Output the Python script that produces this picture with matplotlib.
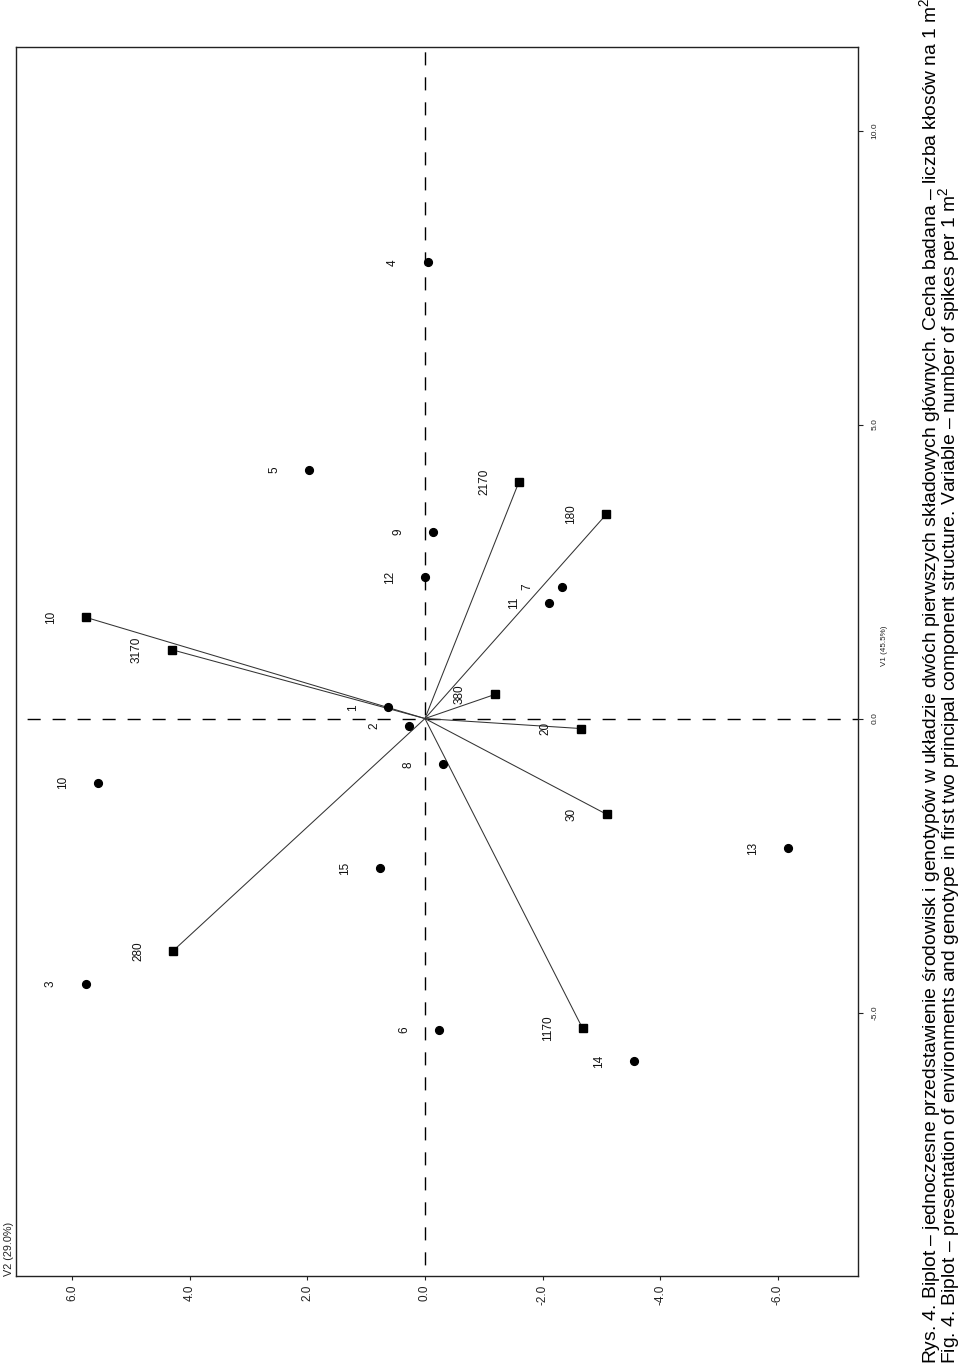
import matplotlib
matplotlib.use("Agg")
import matplotlib.pyplot as plt

# ---------------- data (V1 = first PC, V2 = second PC) ----------------
gen_labels = ['1', '2', '3', '4', '5', '6', '7', '8', '9', '10', '11', '12', '13', '14', '15']
gen_v1 = [0.19, -0.12, -4.51, 7.76, 4.23, -5.29, 2.24, -0.78, 3.18, -1.09, 1.96, 2.40, -2.21, -5.83, -2.55]
gen_v2 = [0.63, 0.27, 5.76, -0.05, 1.97, -0.24, -2.33, -0.31, -0.14, 5.56, -2.11, 0.00, -6.17, -3.55, 0.76]

env_labels = ['10', '3170', '280', '1170', '30', '20', '380', '180', '2170']
env_v1 = [1.72, 1.17, -3.95, -5.27, -1.63, -0.17, 0.41, 3.47, 4.03]
env_v2 = [5.76, 4.30, 4.28, -2.68, -3.09, -2.65, -1.19, -3.08, -1.60]

v2_ticks = [6.0, 4.0, 2.0, 0.0, -2.0, -4.0, -6.0]
v1_ticks = [-5.0, 0.0, 5.0, 10.0]
v1_title = "V1 (45.5%)"
v2_title = "V2 (29.0%)"
caption_pl = ("Rys. 4. Biplot \u2013 jednoczesne przedstawienie środowisk i genotypów w układzie "
              "dwóch pierwszych składowych głównych. Cecha badana \u2013 liczba kłosów na 1 m$^{2}$")
caption_en = ("Fig. 4. Biplot \u2013 presentation of environments and genotype in first two principal "
              "component structure. Variable \u2013 number of spikes per 1 m$^{2}$")

# ---------------- style ----------------
plt.rcParams['font.family'] = ['Liberation Sans', 'DejaVu Sans']
plt.rcParams['mathtext.fontset'] = 'custom'
plt.rcParams['mathtext.rm'] = 'Liberation Sans'
plt.rcParams['mathtext.it'] = 'Liberation Sans:italic'
plt.rcParams['mathtext.bf'] = 'Liberation Sans:bold'

W, H = 960, 1366
fig = plt.figure(figsize=(W / 100, H / 100), dpi=100)
fig.patch.set_facecolor('white')

# axes box in pixels
L, R, T, B = 16, 858, 47, 1276
ax = fig.add_axes([L / W, 1 - B / H, (R - L) / W, (B - T) / H])

# horizontal axis of picture = V2 (increasing to the left), vertical = V1
ax.set_xlim(6.95, -7.36)
ax.set_ylim(-9.48, 11.42)

ax.axvline(0, color='black', lw=1.0, linestyle=(10, (9.4, 8.6)), zorder=1)
ax.axhline(0, color='black', lw=1.0, linestyle=(10, (9.4, 8.6)), zorder=1)

# environment vectors
for lab, y, x in zip(env_labels, env_v1, env_v2):
    ax.plot([0, x], [0, y], color='#333333', lw=0.75, zorder=2)
ax.plot(env_v2, env_v1, linestyle='none', marker='s', markersize=5.4,
        color='black', zorder=3)
ax.plot(gen_v2, gen_v1, linestyle='none', marker='o', markersize=5.6,
        color='black', zorder=3)

for lab, y, x in zip(env_labels + gen_labels, env_v1 + gen_v1, env_v2 + gen_v2):
    ax.annotate(lab, (x, y), xytext=(-35, 0), textcoords='offset pixels',
                rotation=90, ha='center', va='center', fontsize=8.5, color='#111111')

# ticks
ax.set_xticks(v2_ticks)
ax.set_xticklabels([f"{t:.1f}" for t in v2_ticks], rotation=90, fontsize=8.5)
ax.yaxis.tick_right()
ax.set_yticks(v1_ticks)
ax.set_yticklabels([f"{t:.1f}" for t in v1_ticks], rotation=90, fontsize=6,
                   va='center')
ax.tick_params(axis='x', direction='out', length=3, width=0.8, pad=3, colors='#222222')
ax.tick_params(axis='y', direction='out', length=3.5, width=0.8, pad=6, colors='#222222')
for s in ax.spines.values():
    s.set_linewidth(1.0)
    s.set_color('#222222')

# axis titles
fig.text(9 / W, 1 - B / H, v2_title, rotation=90, ha='center', va='bottom',
         fontsize=7.8, color='#222222')
fig.text(884 / W, 1 - 646 / H, v1_title, rotation=90, ha='center', va='center',
         fontsize=5.8, color='#222222')

# captions (anchored at their baselines)
fig.text(936.5 / W, 2 / H, caption_pl, rotation=90, rotation_mode='anchor',
         ha='left', va='baseline', fontsize=13.9, color='black')
fig.text(955 / W, 2 / H, caption_en, rotation=90, rotation_mode='anchor',
         ha='left', va='baseline', fontsize=13.9, color='black')

fig.savefig('out.png', dpi=100, facecolor='white')
